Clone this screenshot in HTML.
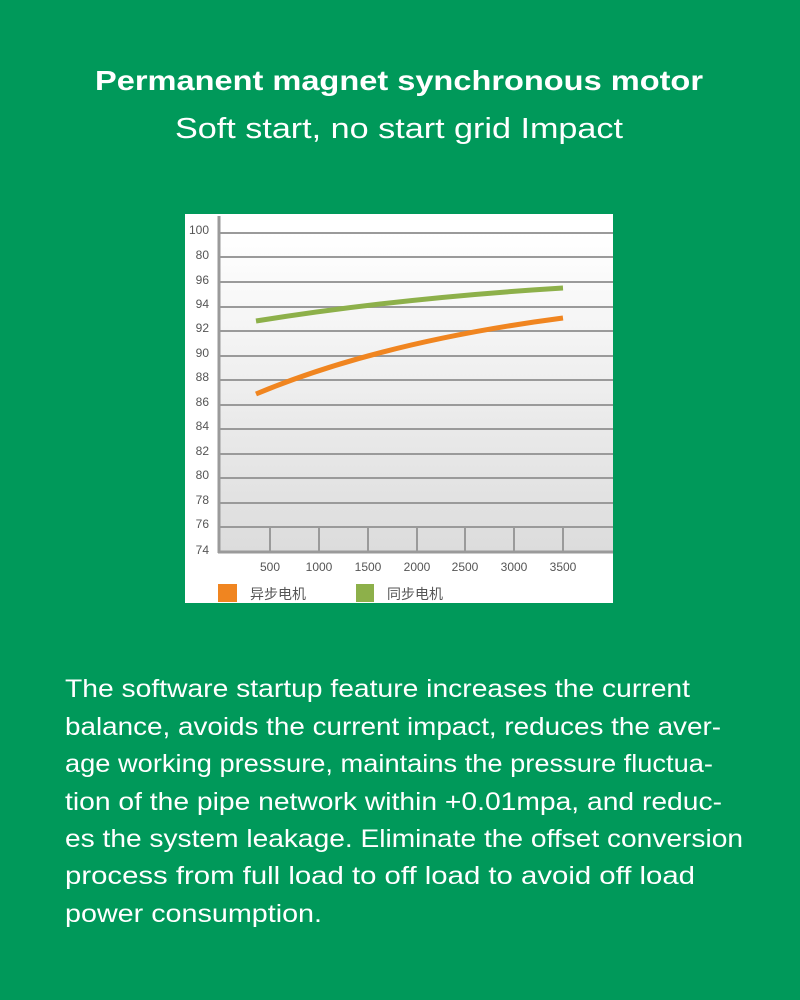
<!DOCTYPE html>
<html><head><meta charset="utf-8"><style>
html,body{margin:0;padding:0;background:#00995a;}
svg{display:block}
</style></head><body>
<svg width="800" height="1000" xmlns="http://www.w3.org/2000/svg" font-family="Liberation Sans, sans-serif">
<defs>
<linearGradient id="g" x1="0" y1="0" x2="0" y2="1">
<stop offset="0" stop-color="#ffffff"/><stop offset="1" stop-color="#dcdcdc"/>
</linearGradient>
</defs>
<rect width="800" height="1000" fill="#00995a"/>
<text x="399" y="90" fill="#fff" font-size="28" font-weight="bold" text-anchor="middle" textLength="608" lengthAdjust="spacingAndGlyphs">Permanent magnet synchronous motor</text>
<text x="399" y="138" fill="#fff" font-size="29" text-anchor="middle" textLength="448" lengthAdjust="spacingAndGlyphs">Soft start, no start grid Impact</text>

<rect x="185" y="214" width="428" height="389" fill="#fff"/>
<rect x="219" y="233" width="394" height="319" fill="url(#g)"/>
<g stroke="#9a9a9a" stroke-width="2">
<line x1="219" y1="233" x2="613" y2="233"/><line x1="219" y1="257" x2="613" y2="257"/>
<line x1="219" y1="282" x2="613" y2="282"/><line x1="219" y1="307" x2="613" y2="307"/>
<line x1="219" y1="331" x2="613" y2="331"/><line x1="219" y1="356" x2="613" y2="356"/>
<line x1="219" y1="380" x2="613" y2="380"/><line x1="219" y1="405" x2="613" y2="405"/>
<line x1="219" y1="429" x2="613" y2="429"/><line x1="219" y1="454" x2="613" y2="454"/>
<line x1="219" y1="478" x2="613" y2="478"/><line x1="219" y1="503" x2="613" y2="503"/>
<line x1="219" y1="527" x2="613" y2="527"/>
<line x1="270" y1="527" x2="270" y2="552"/><line x1="319" y1="527" x2="319" y2="552"/>
<line x1="368" y1="527" x2="368" y2="552"/><line x1="417" y1="527" x2="417" y2="552"/>
<line x1="465" y1="527" x2="465" y2="552"/><line x1="514" y1="527" x2="514" y2="552"/>
<line x1="563" y1="527" x2="563" y2="552"/>
</g>
<line x1="219" y1="216" x2="219" y2="553" stroke="#9a9a9a" stroke-width="3"/>
<line x1="218" y1="552" x2="613" y2="552" stroke="#9a9a9a" stroke-width="3"/>
<g fill="#555" font-size="12" text-anchor="end">
<text x="209" y="234">100</text><text x="209" y="259">80</text><text x="209" y="284">96</text>
<text x="209" y="308">94</text><text x="209" y="332">92</text><text x="209" y="357">90</text>
<text x="209" y="381">88</text><text x="209" y="406">86</text><text x="209" y="430">84</text>
<text x="209" y="455">82</text><text x="209" y="479">80</text><text x="209" y="504">78</text>
<text x="209" y="528">76</text><text x="209" y="554">74</text>
</g>
<g fill="#555" font-size="12" text-anchor="middle">
<text x="270" y="571">500</text><text x="319" y="571">1000</text><text x="368" y="571">1500</text>
<text x="417" y="571">2000</text><text x="465" y="571">2500</text><text x="514" y="571">3000</text>
<text x="563" y="571">3500</text>
</g>
<path d="M256,321 Q400,298 563,288" fill="none" stroke="#8db04a" stroke-width="5"/>
<path d="M256,394 Q380,342 563,318" fill="none" stroke="#f08520" stroke-width="5"/>
<rect x="218" y="584" width="19" height="18" fill="#f08520"/>
<text x="250" y="599" font-family="Liberation Sans, Noto Sans CJK SC, sans-serif" font-size="14" fill="#555">异步电机</text>
<rect x="356" y="584" width="18" height="18" fill="#8db04a"/>
<text x="387" y="599" font-family="Liberation Sans, Noto Sans CJK SC, sans-serif" font-size="14" fill="#555">同步电机</text>

<g fill="#fff" font-size="25" lengthAdjust="spacingAndGlyphs">
<text x="65" y="697" textLength="625" lengthAdjust="spacingAndGlyphs">The software startup feature increases the current</text>
<text x="65" y="735" textLength="656" lengthAdjust="spacingAndGlyphs">balance, avoids the current impact, reduces the aver-</text>
<text x="65" y="772" textLength="648" lengthAdjust="spacingAndGlyphs">age working pressure, maintains the pressure fluctua-</text>
<text x="65" y="810" textLength="657" lengthAdjust="spacingAndGlyphs">tion of the pipe network within +0.01mpa, and reduc-</text>
<text x="65" y="847" textLength="678" lengthAdjust="spacingAndGlyphs">es the system leakage. Eliminate the offset conversion</text>
<text x="65" y="884" textLength="630" lengthAdjust="spacingAndGlyphs">process from full load to off load to avoid off load</text>
<text x="65" y="922" textLength="257" lengthAdjust="spacingAndGlyphs">power consumption.</text>
</g>
</svg>
</body></html>
